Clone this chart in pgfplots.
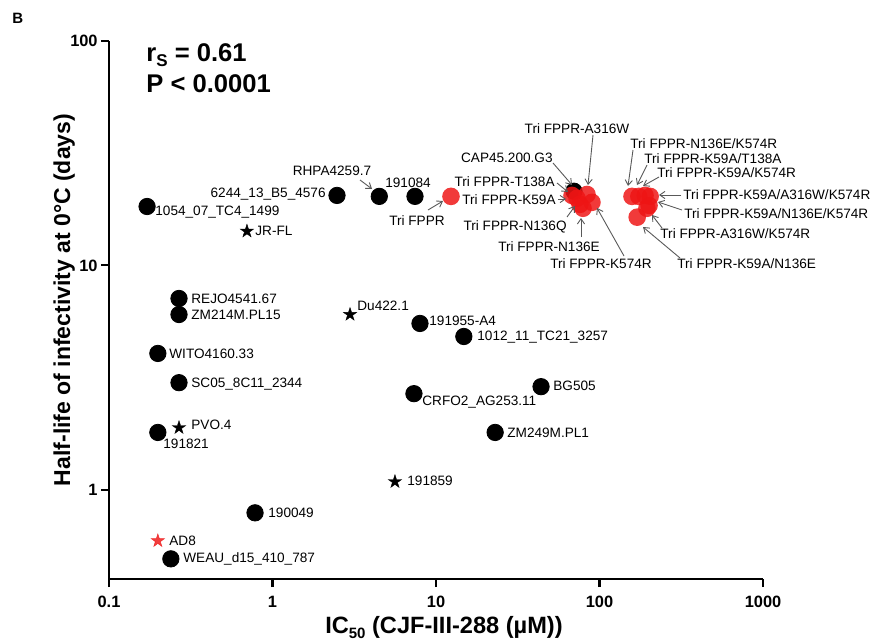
\documentclass[border=0pt]{standalone}
\usepackage{fontspec}
\setmainfont{Liberation Sans}
\usepackage{pgfplots}
\pgfplotsset{compat=1.18}
\usetikzlibrary{arrows.meta}
\definecolor{myred}{RGB}{238,20,20}
\newcommand{\lbl}{\fontsize{6.8}{7}\selectfont}
\pgfdeclareplotmark{fstar}{%
  \pgfpathmoveto{\pgfpointpolar{90}{\pgfplotmarksize}}%
  \pgfpathlineto{\pgfpointpolar{126}{0.382\pgfplotmarksize}}%
  \pgfpathlineto{\pgfpointpolar{162}{\pgfplotmarksize}}%
  \pgfpathlineto{\pgfpointpolar{198}{0.382\pgfplotmarksize}}%
  \pgfpathlineto{\pgfpointpolar{234}{\pgfplotmarksize}}%
  \pgfpathlineto{\pgfpointpolar{270}{0.382\pgfplotmarksize}}%
  \pgfpathlineto{\pgfpointpolar{306}{\pgfplotmarksize}}%
  \pgfpathlineto{\pgfpointpolar{342}{0.382\pgfplotmarksize}}%
  \pgfpathlineto{\pgfpointpolar{18}{\pgfplotmarksize}}%
  \pgfpathlineto{\pgfpointpolar{54}{0.382\pgfplotmarksize}}%
  \pgfpathclose\pgfusepathqfillstroke}
\tikzset{arr/.style={draw=black!65, line width=0.45pt, -{Straight Barb[length=2.6pt,width=3.6pt]}},
  lab/.style={inner sep=0pt, font=\lbl}}
\begin{document}
\begin{tikzpicture}
\begin{axis}[name=ax, scale only axis, width=327pt, height=269pt,
  xmode=log, ymode=log, xmin=0.1, xmax=1000, ymin=0.4, ymax=100,
  axis lines=left, axis line style={-, line width=1.1pt},
  xtick={0.1,1,10,100,1000}, xticklabels={0.1,1,10,100,1000},
  ytick={1,10,100}, yticklabels={1,10,100},
  tick align=outside, major tick length=4pt,
  major tick style={line width=1.1pt, black},
  minor tick style={draw=none},
  ticklabel style={font=\bfseries\fontsize{8.2}{9}\selectfont, inner sep=0pt},
  xticklabel style={anchor=base, yshift=-10pt},
  yticklabel style={anchor=east, xshift=-1.5pt},
  clip=false]
% black circles
\addplot[only marks, mark=*, mark size=4.1pt, mark options={fill=black, draw=black}] coordinates {
 (0.171,18.3) (2.48,20.5) (4.50,20.3) (7.44,20.3)
 (0.268,7.12) (0.268,6.04) (0.199,4.05) (0.268,3.00) (0.199,1.80)
 (7.98,5.51) (14.8,4.82) (7.33,2.68) (43.9,2.88) (23.0,1.80)
 (0.782,0.789) (0.239,0.492) (69.8,21.4)};
% black stars
\addplot[only marks, mark=fstar, mark size=3.5pt, mark options={fill=black, draw=black, line width=0.2pt}] coordinates {
 (0.698,14.2) (0.268,1.89) (2.98,6.04) (5.61,1.086)};
% red star
\addplot[only marks, mark=fstar, mark size=3.5pt, mark options={fill=myred, draw=myred, line width=0.2pt, opacity=0.82}] coordinates {
 (0.199,0.592)};
% red circles
\addplot[only marks, mark=*, mark size=4.4pt, mark options={fill=myred, draw opacity=0, fill opacity=0.84}] coordinates {
 (12.35,20.3)
 (67.9,20.5) (72.9,19.9) (83.9,20.7) (76.0,18.7) (79.3,17.97) (89.9,19.1)
 (158,20.3) (174,20.3) (190,20.5) (204,20.3) (201,18.5) (195,17.97) (170,16.4)};
\end{axis}
\coordinate (O) at ([xshift=-54.5pt, yshift=289.5pt]ax.south west);
\begin{scope}[shift={(O)}, x=0.5pt, y=-0.5pt]
\node[anchor=base west, inner sep=0pt, font=\bfseries\fontsize{7.5}{8}\selectfont] at (12,24) {B};
\node[anchor=base west, inner sep=0pt, font=\bfseries\fontsize{12.8}{13}\selectfont] at (146,61) {r\raisebox{-2.5pt}{\fontsize{8.5}{9}\selectfont S} = 0.61};
\node[anchor=base west, inner sep=0pt, font=\bfseries\fontsize{12.8}{13}\selectfont] at (146,92) {P < 0.0001};
\node[anchor=base, inner sep=0pt, font=\bfseries\fontsize{11.8}{12}\selectfont] at (444,633) {IC\raisebox{-2.5pt}{\fontsize{7.5}{8}\selectfont 50} (CJF-III-288 (µM))};
\node[rotate=90, anchor=base, inner sep=0pt, font=\bfseries\fontsize{11.5}{12}\selectfont] at (70,300) {Half-life of infectivity at 0°C (days)};
% single labels
\node[lab, anchor=base west] at (155,215) {1054\_07\_TC4\_1499};
\node[lab, anchor=base west] at (255,235) {JR-FL};
\node[lab, anchor=base east] at (326,197) {6244\_13\_B5\_4576};
\node[lab, anchor=base] at (332,175) {RHPA4259.7};
\node[lab, anchor=base] at (408,187) {191084};
\node[lab, anchor=base] at (417,225) {Tri FPPR};
\node[lab, anchor=base west] at (191,303) {REJO4541.67};
\node[lab, anchor=base west] at (191,319) {ZM214M.PL15};
\node[lab, anchor=base west] at (169,358) {WITO4160.33};
\node[lab, anchor=base west] at (191,387) {SC05\_8C11\_2344};
\node[lab, anchor=base west] at (191,429) {PVO.4};
\node[lab, anchor=base west] at (163,448) {191821};
\node[lab, anchor=base west] at (357,310) {Du422.1};
\node[lab, anchor=base west] at (429,325) {191955-A4};
\node[lab, anchor=base west] at (477,340) {1012\_11\_TC21\_3257};
\node[lab, anchor=base west] at (422,405) {CRFO2\_AG253.11};
\node[lab, anchor=base west] at (553,390) {BG505};
\node[lab, anchor=base west] at (507,437) {ZM249M.PL1};
\node[lab, anchor=base west] at (407,485) {191859};
\node[lab, anchor=base west] at (268,517) {190049};
\node[lab, anchor=base west] at (169,545) {AD8};
\node[lab, anchor=base west] at (183,562) {WEAU\_d15\_410\_787};
% cluster 1
\node[lab, anchor=base east] at (553,162) {CAP45.200.G3};
\node[lab, anchor=base] at (577,133) {Tri FPPR-A316W};
\node[lab, anchor=base east] at (555,186) {Tri FPPR-T138A};
\node[lab, anchor=base east] at (556,204) {Tri FPPR-K59A};
\node[lab, anchor=base east] at (567,230) {Tri FPPR-N136Q};
\node[lab, anchor=base] at (549,251) {Tri FPPR-N136E};
\node[lab, anchor=base] at (601,268) {Tri FPPR-K574R};
% cluster 2
\node[lab, anchor=base west] at (630,148) {Tri FPPR-N136E/K574R};
\node[lab, anchor=base west] at (644,163) {Tri FPPR-K59A/T138A};
\node[lab, anchor=base west] at (657,177) {Tri FPPR-K59A/K574R};
\node[lab, anchor=base west] at (683,199) {Tri FPPR-K59A/A316W/K574R};
\node[lab, anchor=base west] at (684,218) {Tri FPPR-K59A/N136E/K574R};
\node[lab, anchor=base west] at (660,238) {Tri FPPR-A316W/K574R};
\node[lab, anchor=base west] at (677,268) {Tri FPPR-K59A/N136E};
% arrows
\draw[arr] (360,180) -- (372,189);
\draw[arr] (428,210) -- (443,201);
\draw[arr] (553,163) -- (572,185);
\draw[arr] (593,135) -- (588,185);
\draw[arr] (557,183) -- (568,192);
\draw[arr] (558,199) -- (566,199);
\draw[arr] (567,217) -- (575,206);
\draw[arr] (581,237) -- (581,218);
\draw[arr] (624,256) -- (597,208);
\draw[arr] (633,150) -- (628,186);
\draw[arr] (647,165) -- (637,185);
\draw[arr] (659,177) -- (643,186);
\draw[arr] (681,195) -- (659,195);
\draw[arr] (682,210) -- (658,202);
\draw[arr] (662,228) -- (652,215);
\draw[arr] (680,258) -- (643,227);
\pgfresetboundingbox
\path[use as bounding box] (0,0) rectangle (870,639);
\end{scope}
\end{tikzpicture}
\end{document}
